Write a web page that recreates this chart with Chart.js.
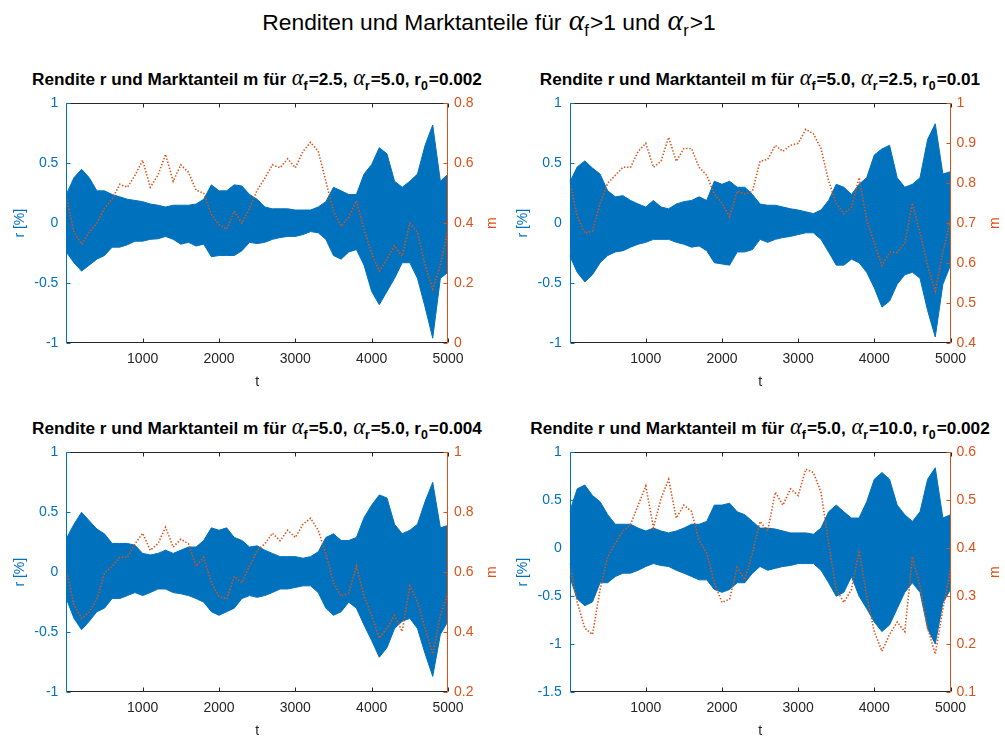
<!DOCTYPE html>
<html>
<head>
<meta charset="utf-8">
<script src="https://cdn.jsdelivr.net/npm/chart.js@4.4.0/dist/chart.umd.min.js"></script>
<style>
  body { margin: 0; background: #fff; width: 1005px; height: 740px; position: relative; overflow: hidden;
         font-family: "Liberation Sans", Arial, sans-serif; color: #000; }
  canvas { position: absolute; }
  .ttl { position: absolute; width: 600px; text-align: center; white-space: nowrap; line-height: 1; }
  .main { font-size: 22.8px; top: 6px; left: 189px; }
  .sub { font-size: 17.2px; font-weight: bold; }
  .al { font-family: "Liberation Serif", "DejaVu Serif", serif; font-style: italic; font-weight: normal; font-size: 1.3em; margin-left: 1px; }
  sub { font-size: 0.72em; vertical-align: -0.38em; line-height: 0; margin-right: 1px; }
</style>
</head>
<body>
<div class="ttl main">Renditen und Marktanteile für <span class="al">α</span><sub>f</sub>&gt;1 und <span class="al">α</span><sub>r</sub>&gt;1</div>
<div class="ttl sub" style="left:-43px;top:67px">Rendite r und Marktanteil m für <span class="al">α</span><sub>f</sub>=2.5, <span class="al">α</span><sub>r</sub>=5.0, r<sub>0</sub>=0.002</div>
<div class="ttl sub" style="left:460px;top:67px">Rendite r und Marktanteil m für <span class="al">α</span><sub>f</sub>=5.0, <span class="al">α</span><sub>r</sub>=2.5, r<sub>0</sub>=0.01</div>
<div class="ttl sub" style="left:-43px;top:416px">Rendite r und Marktanteil m für <span class="al">α</span><sub>f</sub>=5.0, <span class="al">α</span><sub>r</sub>=5.0, r<sub>0</sub>=0.004</div>
<div class="ttl sub" style="left:460px;top:416px">Rendite r und Marktanteil m für <span class="al">α</span><sub>f</sub>=5.0, <span class="al">α</span><sub>r</sub>=10.0, r<sub>0</sub>=0.002</div>

<canvas id="c1" width="500" height="310" style="left:0px;top:87px"></canvas>
<canvas id="c2" width="500" height="310" style="left:503px;top:87px"></canvas>
<canvas id="c3" width="500" height="310" style="left:0px;top:436px"></canvas>
<canvas id="c4" width="500" height="310" style="left:503px;top:436px"></canvas>

<script>
const BLUE = "#0072BD";
const ORANGE = "#D95319";
const DARK = "#262626";

// time steps (every 100 periods)
const T = [0, 100, 200, 300, 400, 500, 600, 700, 800, 900, 1000, 1100, 1200, 1300, 1400, 1500, 1600, 1700, 1800, 1900,
  2000, 2100, 2200, 2300, 2400, 2500, 2600, 2700, 2800, 2900, 3000, 3100, 3200, 3300, 3400, 3500, 3600, 3700, 3800, 3900,
  4000, 4100, 4200, 4300, 4400, 4500, 4600, 4700, 4800, 4900, 5000];
const X_TICKS = [1000, 2000, 3000, 4000, 5000];

// returns r: upper / lower envelope of the oscillation, market share m
const r1Hi = [0.24, 0.38, 0.45, 0.38, 0.27, 0.27, 0.24, 0.22, 0.20, 0.19, 0.18, 0.16, 0.15, 0.135, 0.15, 0.15, 0.15, 0.16, 0.20, 0.32,
  0.27, 0.27, 0.32, 0.31, 0.24, 0.20, 0.135, 0.12, 0.12, 0.12, 0.11, 0.11, 0.11, 0.135, 0.18, 0.30, 0.27, 0.24, 0.24, 0.41,
  0.49, 0.63, 0.58, 0.35, 0.30, 0.35, 0.41, 0.65, 0.82, 0.35, 0.41];
const r1Lo = [-0.24, -0.33, -0.40, -0.35, -0.30, -0.27, -0.20, -0.20, -0.18, -0.15, -0.15, -0.135, -0.13, -0.11, -0.135, -0.175, -0.16, -0.19, -0.175, -0.28,
  -0.27, -0.27, -0.27, -0.23, -0.16, -0.17, -0.16, -0.135, -0.12, -0.11, -0.11, -0.095, -0.07, -0.08, -0.135, -0.27, -0.30, -0.24, -0.22, -0.35,
  -0.57, -0.68, -0.57, -0.46, -0.33, -0.33, -0.46, -0.70, -0.96, -0.46, -0.41];
const m1 = [0.49, 0.37, 0.33, 0.37, 0.40, 0.45, 0.48, 0.53, 0.52, 0.56, 0.61, 0.52, 0.56, 0.63, 0.54, 0.595, 0.57, 0.51, 0.50, 0.43,
  0.395, 0.38, 0.44, 0.40, 0.45, 0.51, 0.55, 0.595, 0.585, 0.615, 0.585, 0.64, 0.67, 0.64, 0.54, 0.44, 0.39, 0.42, 0.475, 0.38,
  0.30, 0.24, 0.28, 0.325, 0.29, 0.40, 0.37, 0.26, 0.18, 0.26, 0.38];

const r2Hi = [0.34, 0.47, 0.52, 0.46, 0.41, 0.27, 0.22, 0.23, 0.19, 0.16, 0.135, 0.19, 0.135, 0.12, 0.16, 0.18, 0.19, 0.22, 0.19, 0.35,
  0.325, 0.35, 0.30, 0.30, 0.24, 0.16, 0.15, 0.15, 0.135, 0.12, 0.11, 0.095, 0.08, 0.11, 0.19, 0.325, 0.30, 0.24, 0.325, 0.38,
  0.57, 0.62, 0.65, 0.38, 0.30, 0.325, 0.38, 0.70, 0.83, 0.41, 0.43];
const r2Lo = [-0.27, -0.41, -0.49, -0.43, -0.33, -0.27, -0.24, -0.23, -0.20, -0.175, -0.16, -0.135, -0.135, -0.135, -0.16, -0.175, -0.20, -0.19, -0.23, -0.33,
  -0.34, -0.35, -0.24, -0.24, -0.22, -0.135, -0.16, -0.135, -0.12, -0.11, -0.095, -0.08, -0.08, -0.135, -0.24, -0.35, -0.35, -0.30, -0.33, -0.41,
  -0.54, -0.70, -0.65, -0.51, -0.43, -0.41, -0.46, -0.73, -0.95, -0.51, -0.35];
const m2 = [0.81, 0.716, 0.675, 0.68, 0.75, 0.80, 0.82, 0.84, 0.84, 0.88, 0.90, 0.84, 0.855, 0.915, 0.855, 0.887, 0.887, 0.84, 0.82, 0.773,
  0.75, 0.716, 0.78, 0.773, 0.78, 0.855, 0.86, 0.895, 0.88, 0.895, 0.90, 0.935, 0.924, 0.887, 0.806, 0.75, 0.724, 0.74, 0.814, 0.708,
  0.65, 0.594, 0.627, 0.627, 0.65, 0.75, 0.675, 0.594, 0.53, 0.627, 0.708];

const r3Hi = [0.28, 0.40, 0.50, 0.43, 0.36, 0.32, 0.24, 0.24, 0.24, 0.225, 0.157, 0.144, 0.157, 0.184, 0.157, 0.184, 0.21, 0.21, 0.265, 0.37,
  0.35, 0.37, 0.29, 0.265, 0.21, 0.22, 0.184, 0.157, 0.13, 0.13, 0.13, 0.117, 0.13, 0.17, 0.29, 0.32, 0.265, 0.265, 0.29, 0.455,
  0.56, 0.645, 0.62, 0.40, 0.32, 0.35, 0.40, 0.59, 0.75, 0.37, 0.39];
const r3Lo = [-0.22, -0.385, -0.48, -0.41, -0.33, -0.30, -0.22, -0.22, -0.195, -0.17, -0.195, -0.17, -0.14, -0.14, -0.17, -0.18, -0.195, -0.22, -0.25, -0.33,
  -0.36, -0.33, -0.30, -0.22, -0.195, -0.21, -0.195, -0.17, -0.14, -0.14, -0.127, -0.114, -0.114, -0.17, -0.30, -0.36, -0.33, -0.25, -0.30, -0.44,
  -0.57, -0.71, -0.63, -0.47, -0.41, -0.385, -0.47, -0.68, -0.87, -0.52, -0.41];
const m3 = [0.61, 0.49, 0.446, 0.467, 0.51, 0.597, 0.62, 0.65, 0.65, 0.695, 0.73, 0.673, 0.695, 0.75, 0.684, 0.71, 0.695, 0.62, 0.65, 0.565,
  0.52, 0.51, 0.586, 0.565, 0.62, 0.673, 0.695, 0.73, 0.705, 0.74, 0.716, 0.76, 0.78, 0.74, 0.662, 0.565, 0.52, 0.53, 0.62, 0.52,
  0.456, 0.38, 0.413, 0.456, 0.402, 0.554, 0.50, 0.413, 0.327, 0.456, 0.532];

const r4Hi = [0.38, 0.62, 0.66, 0.55, 0.485, 0.35, 0.25, 0.25, 0.25, 0.21, 0.18, 0.21, 0.18, 0.16, 0.18, 0.21, 0.25, 0.25, 0.28, 0.45,
  0.45, 0.47, 0.38, 0.35, 0.28, 0.21, 0.21, 0.20, 0.18, 0.16, 0.16, 0.16, 0.146, 0.21, 0.38, 0.45, 0.38, 0.315, 0.315, 0.485,
  0.72, 0.79, 0.72, 0.45, 0.35, 0.28, 0.38, 0.72, 0.84, 0.315, 0.35];
const r4Lo = [-0.295, -0.53, -0.60, -0.56, -0.36, -0.36, -0.295, -0.26, -0.26, -0.23, -0.19, -0.16, -0.18, -0.19, -0.23, -0.26, -0.295, -0.33, -0.33, -0.43,
  -0.46, -0.43, -0.36, -0.36, -0.26, -0.19, -0.23, -0.21, -0.19, -0.18, -0.16, -0.16, -0.16, -0.23, -0.36, -0.50, -0.46, -0.295, -0.50, -0.63,
  -0.77, -0.87, -0.80, -0.63, -0.46, -0.36, -0.46, -0.84, -1.0, -0.57, -0.43];
const m4 = [0.368, 0.287, 0.233, 0.22, 0.314, 0.382, 0.41, 0.436, 0.45, 0.49, 0.53, 0.443, 0.504, 0.544, 0.463, 0.49, 0.477, 0.416, 0.39, 0.328,
  0.287, 0.294, 0.36, 0.334, 0.39, 0.456, 0.436, 0.517, 0.49, 0.524, 0.51, 0.565, 0.558, 0.517, 0.41, 0.314, 0.287, 0.314, 0.395, 0.30,
  0.226, 0.185, 0.22, 0.246, 0.226, 0.382, 0.32, 0.233, 0.179, 0.273, 0.355];

// axis ticks per panel
const rTicksA = [-1, -0.5, 0, 0.5, 1];
const rTicksB = [-1.5, -1, -0.5, 0, 0.5, 1];
const mTicks1 = [0, 0.2, 0.4, 0.6, 0.8];
const mTicks2 = [0.4, 0.5, 0.6, 0.7, 0.8, 0.9, 1];
const mTicks3 = [0.2, 0.4, 0.6, 0.8, 1];
const mTicks4 = [0.1, 0.2, 0.3, 0.4, 0.5, 0.6];

Chart.defaults.font.family = '"Liberation Sans", Arial, sans-serif';
Chart.defaults.font.size = 14;

const pts = (ys) => T.map((t, i) => ({ x: t, y: ys[i] }));
const fixTicks = (list) => (s) => { s.ticks = list.map((v) => ({ value: v })); };

// frame with inward ticks, left axis blue, right axis orange, plus the rotated "m" label
const framePlugin = {
  id: "frame",
  afterDraw(chart) {
    const { ctx, chartArea: a, scales } = chart;
    const L = Math.round(a.left) + 0.5, R = Math.round(a.right) - 0.5;
    const Tp = Math.round(a.top) + 0.5, B = Math.round(a.bottom) - 0.5;
    const len = 4;
    ctx.save();
    ctx.lineWidth = 1;
    ctx.strokeStyle = DARK;
    ctx.beginPath();
    ctx.moveTo(L, Tp); ctx.lineTo(R, Tp);
    ctx.moveTo(L, B); ctx.lineTo(R, B);
    scales.x.ticks.forEach((t) => {
      const px = Math.round(scales.x.getPixelForValue(t.value)) + 0.5;
      ctx.moveTo(px, B); ctx.lineTo(px, B - len);
      ctx.moveTo(px, Tp); ctx.lineTo(px, Tp + len);
    });
    ctx.stroke();

    ctx.strokeStyle = BLUE;
    ctx.beginPath();
    ctx.moveTo(L, Tp); ctx.lineTo(L, B);
    scales.y.ticks.forEach((t) => {
      const py = Math.round(scales.y.getPixelForValue(t.value)) + 0.5;
      ctx.moveTo(L, py); ctx.lineTo(L + len, py);
    });
    ctx.stroke();

    ctx.strokeStyle = ORANGE;
    ctx.beginPath();
    ctx.moveTo(R, Tp); ctx.lineTo(R, B);
    scales.y1.ticks.forEach((t) => {
      const py = Math.round(scales.y1.getPixelForValue(t.value)) + 0.5;
      ctx.moveTo(R, py); ctx.lineTo(R - len, py);
    });
    ctx.stroke();

    ctx.fillStyle = ORANGE;
    ctx.font = '14px "Liberation Sans", Arial, sans-serif';
    ctx.textAlign = "center";
    ctx.textBaseline = "middle";
    ctx.translate(chart.width - 8, (a.top + a.bottom) / 2);
    ctx.rotate(-Math.PI / 2);
    ctx.fillText("m", 0, 0);
    ctx.restore();
  },
};

function makePanel(id, hi, lo, m, rMin, rMax, rTicks, mMin, mMax, mTicks, padLeft, rightWidth) {
  return new Chart(document.getElementById(id), {
    type: "line",
    data: {
      datasets: [
        { data: pts(hi), yAxisID: "y", borderColor: BLUE, backgroundColor: BLUE, borderWidth: 1, fill: "+1", order: 2 },
        { data: pts(lo), yAxisID: "y", borderColor: BLUE, backgroundColor: BLUE, borderWidth: 1, fill: false, order: 2 },
        { data: pts(m), yAxisID: "y1", borderColor: ORANGE, borderWidth: 1.6, borderDash: [1.4, 1.8], fill: false, order: 0 },
      ],
    },
    options: {
      responsive: false,
      animation: false,
      events: [],
      layout: { padding: { left: padLeft, top: 10, right: 0, bottom: 0 } },
      elements: { point: { radius: 0 }, line: { tension: 0 } },
      plugins: { legend: { display: false }, tooltip: { enabled: false }, title: { display: false } },
      scales: {
        x: {
          type: "linear",
          min: 1,
          max: 5000,
          afterBuildTicks: fixTicks(X_TICKS),
          afterFit: (s) => { s.height = 54; },
          grid: { display: false, drawTicks: false },
          border: { display: false },
          ticks: { color: DARK, padding: 8, maxRotation: 0, autoSkip: false, callback: (v) => String(v) },
          title: { display: true, text: "t", color: DARK, padding: { top: 0, bottom: 6.6 } },
        },
        y: {
          position: "left",
          min: rMin,
          max: rMax,
          afterBuildTicks: fixTicks(rTicks),
          afterFit: (s) => { s.width = 60; },
          grid: { display: false, drawTicks: false },
          border: { display: false },
          ticks: { color: BLUE, padding: 8, callback: (v) => String(v) },
          title: { display: true, text: "r [%]", color: BLUE, padding: { top: 5.2, bottom: 0 } },
        },
        y1: {
          position: "right",
          min: mMin,
          max: mMax,
          afterBuildTicks: fixTicks(mTicks),
          afterFit: (s) => { s.width = rightWidth; },
          grid: { display: false, drawTicks: false },
          border: { display: false },
          ticks: { color: ORANGE, padding: 6, callback: (v) => String(v) },
        },
      },
    },
    plugins: [framePlugin],
  });
}

makePanel("c1", r1Hi, r1Lo, m1, -1, 1, rTicksA, 0, 0.8, mTicks1, 6.4, 52);
makePanel("c2", r2Hi, r2Lo, m2, -1, 1, rTicksA, 0.4, 1, mTicks2, 6.7, 52.5);
makePanel("c3", r3Hi, r3Lo, m3, -1, 1, rTicksA, 0.2, 1, mTicks3, 6.4, 52);
makePanel("c4", r4Hi, r4Lo, m4, -1.5, 1, rTicksB, 0.1, 0.6, mTicks4, 6.7, 52.5);
</script>
</body>
</html>
